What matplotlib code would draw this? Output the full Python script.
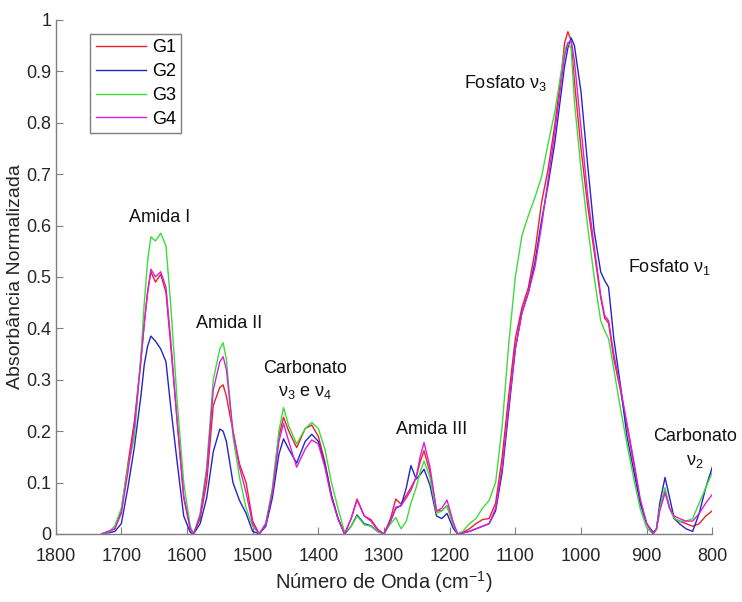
import matplotlib
matplotlib.use("Agg")
import matplotlib.pyplot as plt

plt.rcParams['font.family'] = ['Liberation Sans', 'DejaVu Sans']
plt.rcParams['mathtext.default'] = 'regular'

# wavenumber grid (cm-1), shared by the four groups
wavenumber = [
    1730, 1720, 1710, 1700, 1690, 1680, 1670, 1665, 1660, 1655, 1648, 1640, 1632, 1625, 1615, 1605, 1595, 1590,
    1580, 1570, 1560, 1550, 1545, 1540, 1530, 1520, 1510, 1500, 1490,
    1480, 1470, 1460, 1453, 1445, 1433, 1420, 1410, 1400, 1390, 1380, 1370, 1360,
    1350, 1341, 1330, 1320, 1310, 1300,
    1290, 1282, 1274, 1266, 1259, 1251, 1245, 1239, 1230, 1220, 1212, 1204, 1195, 1188,
    1180, 1170, 1160, 1150, 1140, 1130, 1120, 1110, 1100, 1090,
    1080, 1070, 1060, 1050, 1040, 1030, 1025, 1020, 1015, 1010,
    1000, 990, 980, 970, 964, 958, 950, 940, 930, 920,
    910, 900, 890, 885, 880, 872, 865, 858, 850, 840,
    830, 820, 810, 800,
]

g1 = [
    0, 0.005, 0.01, 0.045, 0.136, 0.22, 0.34, 0.41, 0.47, 0.51, 0.49, 0.505, 0.47, 0.37, 0.22, 0.07, 0.01, 0,
    0.03, 0.10, 0.25, 0.285, 0.29, 0.268, 0.20, 0.136, 0.10, 0.025, 0,
    0.02, 0.08, 0.19, 0.227, 0.20, 0.168, 0.205, 0.212, 0.19, 0.14, 0.075, 0.03, 0,
    0.03, 0.068, 0.035, 0.028, 0.01, 0,
    0.03, 0.068, 0.058, 0.075, 0.09, 0.11, 0.14, 0.162, 0.12, 0.045, 0.045, 0.055, 0.02, 0,
    0.003, 0.01, 0.02, 0.028, 0.03, 0.06, 0.15, 0.27, 0.38, 0.44,
    0.48, 0.55, 0.645, 0.71, 0.795, 0.895, 0.955, 0.977, 0.96, 0.88,
    0.75, 0.64, 0.55, 0.46, 0.42, 0.41, 0.34, 0.28, 0.21, 0.14,
    0.064, 0.02, 0, 0.01, 0.05, 0.085, 0.05, 0.03, 0.025, 0.02,
    0.015, 0.02, 0.035, 0.045,
]

g2 = [
    0, 0.002, 0.005, 0.02, 0.09, 0.17, 0.27, 0.33, 0.365, 0.385, 0.375, 0.36, 0.335, 0.25, 0.14, 0.035, 0.003, 0,
    0.02, 0.07, 0.16, 0.204, 0.20, 0.18, 0.10, 0.065, 0.04, 0.005, 0,
    0.015, 0.07, 0.155, 0.185, 0.165, 0.138, 0.18, 0.194, 0.18, 0.135, 0.075, 0.03, 0,
    0.015, 0.037, 0.02, 0.016, 0.005, 0,
    0.025, 0.05, 0.055, 0.09, 0.133, 0.107, 0.115, 0.126, 0.095, 0.035, 0.03, 0.04, 0.012, 0,
    0.002, 0.005, 0.01, 0.015, 0.02, 0.045, 0.12, 0.24, 0.36, 0.43,
    0.47, 0.53, 0.61, 0.68, 0.76, 0.86, 0.91, 0.945, 0.965, 0.95,
    0.86, 0.72, 0.59, 0.51, 0.493, 0.48, 0.38, 0.29, 0.19, 0.125,
    0.06, 0.02, 0.003, 0.01, 0.06, 0.11, 0.07, 0.03, 0.02, 0.01,
    0.005, 0.04, 0.09, 0.13,
]

g3 = [
    0, 0.003, 0.015, 0.05, 0.13, 0.19, 0.35, 0.45, 0.53, 0.578, 0.57, 0.585, 0.56, 0.45, 0.26, 0.10, 0.015, 0,
    0.04, 0.13, 0.30, 0.36, 0.372, 0.34, 0.19, 0.11, 0.05, 0.015, 0,
    0.02, 0.09, 0.20, 0.246, 0.21, 0.175, 0.205, 0.217, 0.205, 0.165, 0.10, 0.05, 0.003,
    0.015, 0.035, 0.018, 0.015, 0.005, 0,
    0.02, 0.032, 0.01, 0.025, 0.06, 0.09, 0.12, 0.142, 0.11, 0.04, 0.045, 0.055, 0.02, 0,
    0.005, 0.02, 0.03, 0.05, 0.065, 0.10, 0.21, 0.37, 0.50, 0.58,
    0.62, 0.655, 0.695, 0.76, 0.82, 0.90, 0.94, 0.955, 0.945, 0.84,
    0.71, 0.60, 0.50, 0.415, 0.395, 0.38, 0.32, 0.245, 0.175, 0.11,
    0.05, 0.012, 0, 0.01, 0.05, 0.09, 0.05, 0.03, 0.025, 0.025,
    0.03, 0.06, 0.09, 0.12,
]

g4 = [
    0, 0.005, 0.01, 0.04, 0.12, 0.21, 0.34, 0.41, 0.47, 0.515, 0.50, 0.51, 0.48, 0.38, 0.22, 0.075, 0.01, 0,
    0.035, 0.12, 0.28, 0.335, 0.345, 0.32, 0.20, 0.13, 0.08, 0.02, 0,
    0.02, 0.08, 0.18, 0.215, 0.18, 0.13, 0.165, 0.183, 0.175, 0.13, 0.07, 0.03, 0,
    0.03, 0.066, 0.035, 0.025, 0.008, 0,
    0.025, 0.052, 0.055, 0.07, 0.085, 0.11, 0.15, 0.178, 0.13, 0.045, 0.05, 0.066, 0.025, 0,
    0.002, 0.005, 0.01, 0.015, 0.02, 0.05, 0.13, 0.25, 0.36, 0.43,
    0.47, 0.52, 0.60, 0.69, 0.78, 0.88, 0.93, 0.955, 0.96, 0.92,
    0.79, 0.66, 0.56, 0.465, 0.425, 0.415, 0.35, 0.285, 0.215, 0.145,
    0.07, 0.02, 0, 0.01, 0.045, 0.08, 0.05, 0.035, 0.03, 0.025,
    0.025, 0.04, 0.06, 0.077,
]

groups = ['G1', 'G2', 'G3', 'G4']
colors = ['#e8202a', '#2424c8', '#3cdc3c', '#d820d8']

# band labels: (text, x, y)
bands = [
    ('Amida I', 1642, 0.615),
    ('Amida II', 1536, 0.41),
    ('Carbonato', 1420, 0.322),
    (r'$\nu_3$ e $\nu_4$', 1420, 0.276),
    ('Amida III', 1228, 0.203),
    (r'Fosfato $\nu_3$', 1115, 0.878),
    (r'Fosfato $\nu_1$', 866, 0.52),
    ('Carbonato', 826, 0.19),
    (r'$\nu_2$', 826, 0.14),
]

fig = plt.figure(figsize=(7.42, 6.02), dpi=100)
ax = fig.add_axes([0.075, 0.113, 0.885, 0.854])

for name, ys, c in zip(groups, [g1, g2, g3, g4], colors):
    ax.plot(wavenumber, ys, color=c, lw=1.0, label=name)

ax.set_xlim(1800, 800)
ax.set_ylim(0, 1)
ax.set_xticks(range(1800, 799, -100))
ax.set_yticks([i / 10 for i in range(11)])
ax.set_yticklabels(['0', '0.1', '0.2', '0.3', '0.4', '0.5', '0.6', '0.7', '0.8', '0.9', '1'])

for side in ['top', 'right']:
    ax.spines[side].set_visible(False)
for side in ['left', 'bottom']:
    ax.spines[side].set_color('#7f7f7f')
    ax.spines[side].set_linewidth(1.0)
ax.tick_params(direction='in', length=5, color='#7f7f7f', labelsize=13,
               labelcolor='#262626')
ax.tick_params(axis='x', pad=10)
ax.tick_params(axis='y', pad=3)

ax.set_xlabel('Número de Onda (cm$^{-1}$)', fontsize=14.5, color='#262626', labelpad=3)
ax.set_ylabel('Absorbância Normalizada', fontsize=14, color='#262626', labelpad=2)

for txt, x, y in bands:
    ax.text(x, y, txt, ha='center', va='center', fontsize=13, color='#111111')

leg = ax.legend(loc='upper left', bbox_to_anchor=(0.053, 0.973), borderaxespad=0,
                fontsize=13, handlelength=2.8, labelspacing=0.38, handletextpad=0.3,
                fancybox=False, framealpha=1, edgecolor='#7f7f7f', borderpad=0.3)
leg.get_frame().set_linewidth(1.0)

fig.savefig('out.png', dpi=100)
